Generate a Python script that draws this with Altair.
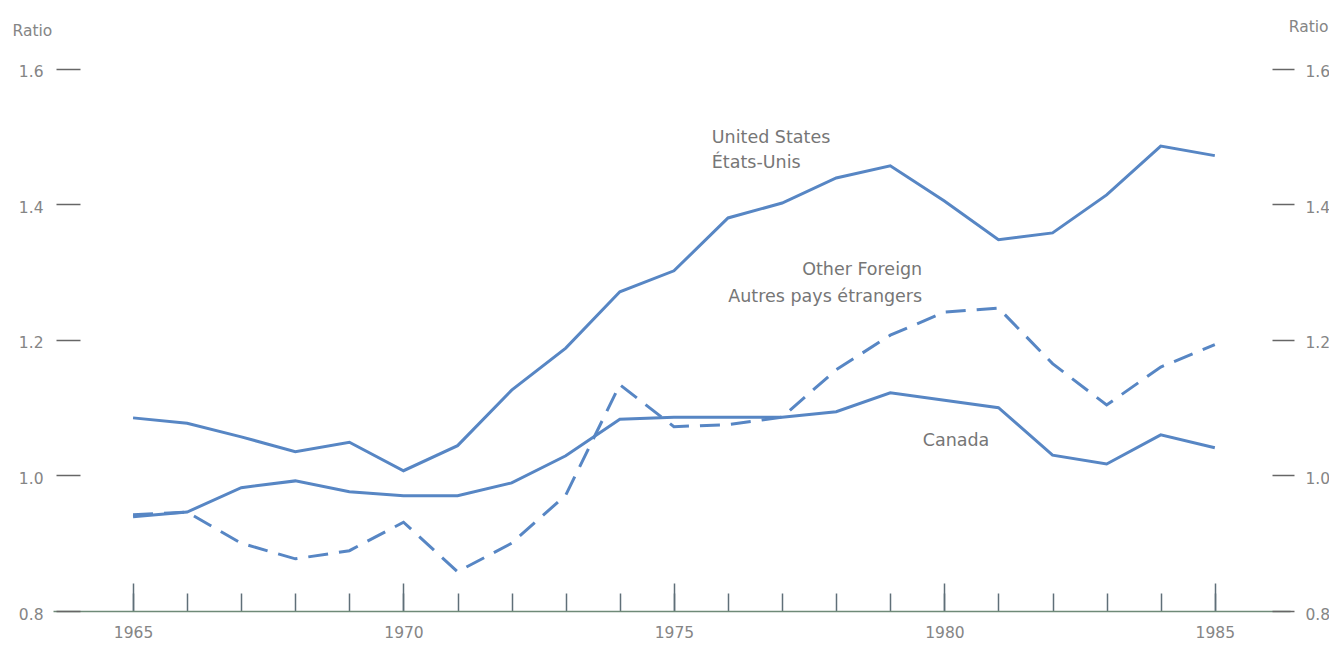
import altair as alt
import pandas as pd

years = list(range(1965, 1986))
united_states = [1.085, 1.077, 1.057, 1.035, 1.049, 1.007, 1.044, 1.126, 1.188, 1.271,
                 1.302, 1.380, 1.402, 1.439, 1.457, 1.405, 1.348, 1.358, 1.414, 1.486, 1.472]
canada = [0.939, 0.946, 0.982, 0.992, 0.976, 0.970, 0.970, 0.989, 1.029, 1.083,
          1.086, 1.086, 1.086, 1.094, 1.122, 1.111, 1.100, 1.030, 1.017, 1.060, 1.041]
other_foreign = [0.942, 0.946, 0.900, 0.877, 0.889, 0.931, 0.858, 0.900, 0.971, 1.134,
                 1.072, 1.075, 1.086, 1.156, 1.207, 1.241, 1.247, 1.165, 1.104, 1.160, 1.193]

y_ticks = [0.8, 1.0, 1.2, 1.4, 1.6]
major_years = [1965, 1970, 1975, 1980, 1985]

left_label_text = ["United States", "États-Unis", "Canada"]
left_label_year = [1975.7, 1975.7, 1979.6]
left_label_value = [1.498, 1.461, 1.051]
right_label_text = ["Other Foreign", "Autres pays étrangers"]
right_label_year = [1979.59, 1979.59]
right_label_value = [1.303, 1.263]

df = pd.DataFrame({"year": years, "us": united_states, "canada": canada, "other": other_foreign})
left_labels = pd.DataFrame({"text": left_label_text, "year": left_label_year, "value": left_label_value})
right_labels = pd.DataFrame({"text": right_label_text, "year": right_label_year, "value": right_label_value})

FONT = "DejaVu Sans"
LINE = "#5786c4"
TICK = "#5f6f78"
YTICK = "#666666"
LAB = "#858585"
DOMAIN_COLOR = "#6f8a78"
AXFS = 15.5

xscale = alt.Scale(domain=[1963.52, 1986.39], nice=False, zero=False)
yscale = alt.Scale(domain=[0.8, 1.65], nice=False, zero=False)

base = alt.Chart(df)

us_layer = base.mark_line(color=LINE, strokeWidth=3).encode(
    x=alt.X("year:Q", scale=xscale, axis=alt.Axis(
        orient="bottom", values=major_years, format="d", offset=-28, tickSize=28,
        tickWidth=1.5, tickColor=TICK, domain=False, grid=False, labelPadding=14,
        labelFont=FONT, labelFontSize=AXFS, labelColor=LAB, title=None)),
    y=alt.Y("us:Q", scale=yscale, axis=alt.Axis(
        orient="left", values=y_ticks, format=".1f", offset=-27, tickSize=24,
        tickWidth=1.5, tickColor=YTICK, domain=False, grid=False, labelPadding=13,
        labelFont=FONT, labelFontSize=AXFS, labelColor=LAB, labelOffset=3,
        title="Ratio", titleAngle=0, titleAlign="left", titleBaseline="middle",
        titleX=-68, titleY=-5, titleFont=FONT, titleFontSize=AXFS,
        titleFontWeight="normal", titleColor=LAB)),
)

canada_layer = base.mark_line(color=LINE, strokeWidth=3).encode(
    x=alt.X("year:Q", scale=xscale, axis=alt.Axis(
        orient="bottom", values=years, offset=-18, tickSize=18, tickWidth=1.5,
        tickColor=TICK, domain=False, grid=False, labels=False, title=None)),
    y=alt.Y("canada:Q", scale=yscale, axis=alt.Axis(
        orient="right", values=y_ticks, format=".1f", offset=-18, tickSize=22,
        tickWidth=1.5, tickColor=YTICK, domain=False, grid=False, labelPadding=11,
        labelFont=FONT, labelFontSize=AXFS, labelColor=LAB, labelOffset=3,
        title="Ratio", titleAngle=0, titleAlign="right", titleBaseline="middle",
        titleX=56, titleY=-9, titleFont=FONT, titleFontSize=AXFS,
        titleFontWeight="normal", titleColor=LAB)),
)

other_layer = base.mark_line(color=LINE, strokeWidth=3, strokeDash=[20, 11]).encode(
    x=alt.X("year:Q", scale=xscale, axis=alt.Axis(
        orient="bottom", ticks=False, labels=False, domain=True, domainColor=DOMAIN_COLOR,
        domainWidth=1.5, grid=False, title=None)),
    y=alt.Y("other:Q", scale=yscale, axis=None),
)

text_left = alt.Chart(left_labels).mark_text(
    font=FONT, fontSize=17.5, color="#767676", baseline="middle", align="left"
).encode(
    x=alt.X("year:Q", scale=xscale, axis=None),
    y=alt.Y("value:Q", scale=yscale, axis=None),
    text="text:N",
)

text_right = alt.Chart(right_labels).mark_text(
    font=FONT, fontSize=17.5, color="#767676", baseline="middle", align="right"
).encode(
    x=alt.X("year:Q", scale=xscale, axis=None),
    y=alt.Y("value:Q", scale=yscale, axis=None),
    text="text:N",
)

chart = alt.layer(us_layer, canada_layer, other_layer, text_left, text_right).resolve_axis(
    x="independent", y="independent"
).properties(
    width=1237, height=576,
    autosize=alt.AutoSizeParams(type="none"),
    padding={"left": 45, "top": 27, "right": 39, "bottom": 30},
).configure(background="white").configure_view(stroke=None)

chart.save("out.html", embed_options={"renderer": "svg", "actions": False})
